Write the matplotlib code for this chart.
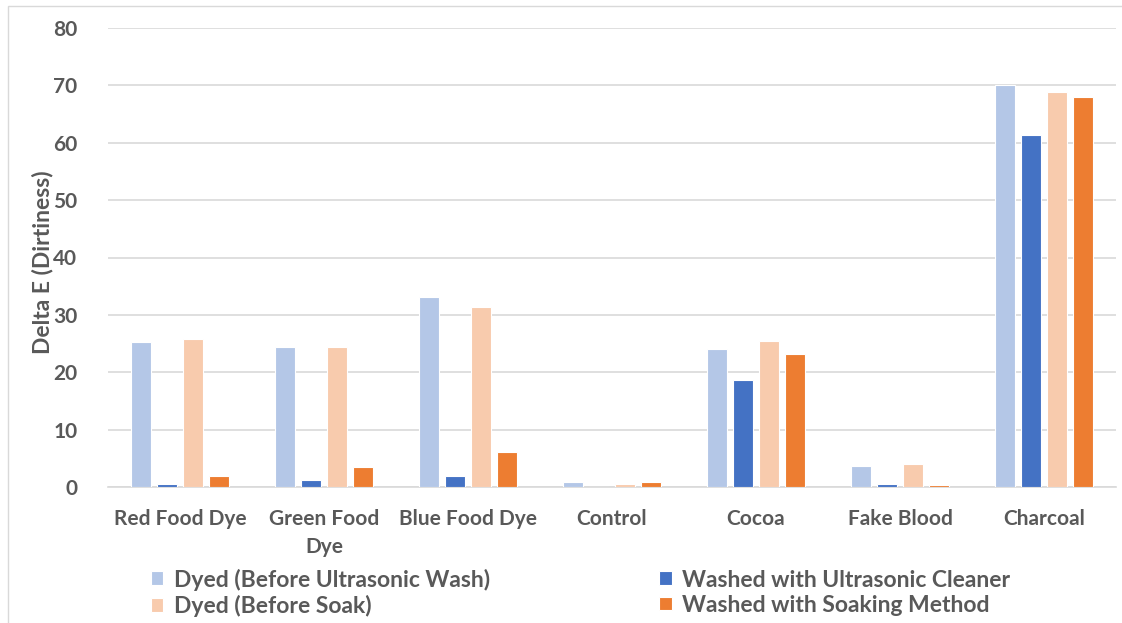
import matplotlib
matplotlib.use("Agg")
import matplotlib.pyplot as plt
import numpy as np

categories = ["Red Food Dye", "Green Food\nDye", "Blue Food Dye", "Control",
              "Cocoa", "Fake Blood", "Charcoal"]
dyed_ultrasonic = [25.3, 24.4, 33.1, 0.8, 24.0, 3.6, 70.0]
washed_ultrasonic = [0.6, 1.3, 1.9, 0.0, 18.6, 0.5, 61.4]
dyed_soak = [25.8, 24.4, 31.4, 0.5, 25.4, 4.0, 68.8]
washed_soak = [1.9, 3.5, 6.1, 0.9, 23.1, 0.4, 68.0]

series = [
    ("Dyed (Before Ultrasonic Wash)", dyed_ultrasonic, "#B4C7E7"),
    ("Washed with Ultrasonic Cleaner", washed_ultrasonic, "#4472C4"),
    ("Dyed (Before Soak)", dyed_soak, "#F8CBAD"),
    ("Washed with Soaking Method", washed_soak, "#ED7D31"),
]

plt.rcParams['font.family'] = ['Lato', 'DejaVu Sans']
txt = "#595959"

fig = plt.figure(figsize=(11.22, 6.23), dpi=100)
ax = fig.add_axes([108 / 1122, 1 - 487 / 623, 1008 / 1122, 459 / 623])

x = np.arange(len(categories))
width = 0.14
offsets = [-0.27, -0.09, 0.09, 0.27]
handles = []
for (label, vals, color), off in zip(series, offsets):
    b = ax.bar(x + off, vals, width, color=color, edgecolor="white",
               linewidth=0.8, label=label, zorder=3)
    handles.append(b)

ax.set_xlim(-0.5, len(categories) - 0.5)
ax.set_ylim(0, 80)
ax.set_yticks(range(0, 81, 10))
ax.yaxis.grid(True, color="#D9D9D9", linewidth=1.2, zorder=0)
ax.set_axisbelow(True)
for s in ["top", "right", "left"]:
    ax.spines[s].set_visible(False)
ax.spines["bottom"].set_color("#D9D9D9")
ax.spines["bottom"].set_linewidth(1.2)
ax.tick_params(axis="both", length=0, colors=txt)
ax.tick_params(axis="y", pad=22, labelsize=15)
ax.tick_params(axis="x", pad=16, labelsize=15)
ax.set_xticks(x)
ax.set_xticklabels(categories, fontweight="bold", linespacing=1.5)
for t in ax.get_yticklabels():
    t.set_fontweight("bold")
ax.set_ylabel("Delta E (Dirtiness)", fontsize=16.5, fontweight="bold",
              color=txt)
ax.yaxis.set_label_coords(-0.054, 0.49)

# Legend: ultrasonic pair on the first row, soak pair on the second
order = [0, 2, 1, 3]
leg = fig.legend([handles[i] for i in order], [series[i][0] for i in order],
                 loc="lower left", bbox_to_anchor=(130 / 1122, -0.023), ncol=2,
                 frameon=False, fontsize=16.5, handlelength=0.55,
                 handleheight=0.55, handletextpad=0.45, columnspacing=7.4,
                 labelspacing=0.18)
for t in leg.get_texts():
    t.set_color(txt)
    t.set_fontweight("bold")

# light frame around the chart
fig.patches.append(plt.Rectangle((8 / 1122, -0.01), 1.1, 1 - 6 / 623 + 0.01,
                                 transform=fig.transFigure, fill=False,
                                 edgecolor="#D9D9D9", linewidth=1))

fig.savefig("out.png", dpi=100)
